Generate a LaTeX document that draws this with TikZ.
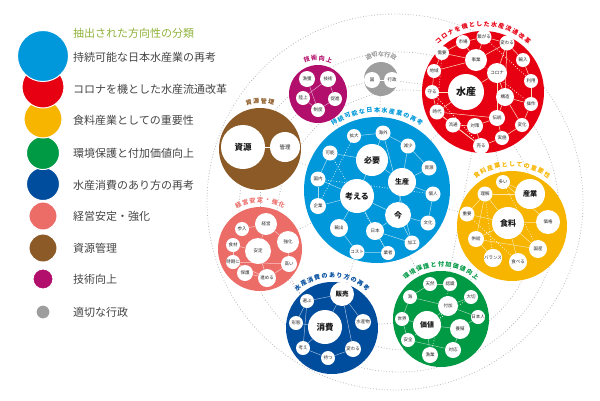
\documentclass[tikz,border=0pt]{standalone}
\usepackage{fontspec}
\setmainfont{Noto Sans CJK JP}
\definecolor{cBlue}{HTML}{0098DB}
\definecolor{cRed}{HTML}{E60012}
\definecolor{cYel}{HTML}{F7B500}
\definecolor{cGrn}{HTML}{009944}
\definecolor{cNavy}{HTML}{004C9D}
\definecolor{cSal}{HTML}{EC6C68}
\definecolor{cBrn}{HTML}{8C5A26}
\definecolor{cPur}{HTML}{B20F6C}
\definecolor{cGry}{HTML}{9E9E9E}
\definecolor{cOlive}{HTML}{8FB23A}
\definecolor{cTxt}{HTML}{444444}
\pgfdeclarelayer{bg}\pgfdeclarelayer{mid}
\pgfsetlayers{bg,mid,main}
\tikzset{
 w/.style={circle, fill=white, inner sep=0pt, minimum size=#1, font=\fontsize{4.5}{5}\selectfont, text=black!85},
 wb/.style={circle, fill=white, inner sep=0pt, minimum size=#1, font=\fontsize{8}{9}\selectfont\bfseries, text=black!90},
 bigc/.style={circle, fill=#1, inner sep=0pt},
 ln/.style={draw=#1, line width=0.5pt},
 dl/.style={draw=white, dotted, line width=0.7pt},
 gdot/.style={draw=black!28, dotted, line width=0.8pt},
 leg/.style={circle, fill=#1, draw=white, line width=1pt, inner sep=0pt},
 legt/.style={anchor=west, font=\fontsize{11}{12}\selectfont, text=cTxt, inner sep=0pt},
}
\newcommand{\arclabel}[7]{%
 \pgfmathsetmacro\abase{90+(#4-1)*#5/2}%
 \foreach \lch [count=\li] in {#7}{%
   \pgfmathsetmacro\ath{\abase-(\li-1)*#5}%
   \node[font=\fontsize{6}{6}\selectfont\bfseries, text=#6, rotate=\ath-90, inner sep=0pt] at ({#1+#3*cos(\ath)},{#2-#3*sin(\ath)}) {\lch};
 }}
\begin{document}
\begin{tikzpicture}[x=1pt,y=-1pt]
\useasboundingbox (0,0) rectangle (600,400);
% legend
\node[leg=cGry, minimum size=14] (L9) at (43,312) {};
\node[leg=cPur, minimum size=20] (L8) at (43,279) {};
\node[leg=cBrn, minimum size=28] (L7) at (43,248) {};
\node[leg=cSal, minimum size=28] (L6) at (43,216) {};
\node[leg=cNavy, minimum size=33] (L5) at (43,184) {};
\node[leg=cGrn, minimum size=33] (L4) at (43,153) {};
\node[leg=cYel, minimum size=38] (L3) at (43,119) {};
\node[leg=cRed, minimum size=42] (L2) at (43,87) {};
\node[leg=cBlue, minimum size=51] (L1) at (43,56) {};
\node[legt, text=cOlive] (T0) at (73,33) {抽出された方向性の分類};
\node[legt] (T1) at (73,57) {持続可能な日本水産業の再考};
\node[legt] (T2) at (73,89) {コロナを機とした水産流通改革};
\node[legt] (T3) at (73,120) {食料産業としての重要性};
\node[legt] (T4) at (73,153) {環境保護と付加価値向上};
\node[legt] (T5) at (73,185) {水産消費のあり方の再考};
\node[legt] (T6) at (73,216) {経営安定・強化};
\node[legt] (T7) at (73,248) {資源管理};
\node[legt] (T8) at (73,279) {技術向上};
\node[legt] (T9) at (73,312) {適切な行政};

% centers
\coordinate (cB) at (377,190);
\coordinate (cR) at (483,92);
\coordinate (cY) at (512,226);
\coordinate (cG) at (441,319);
\coordinate (cN) at (332,328);
\coordinate (cS) at (260,249);
\coordinate (cW) at (260,149);
\coordinate (cP) at (318,94);
\coordinate (cQ) at (381,79);

\begin{pgfonlayer}{bg}
\begin{scope}
\clip (200,0) rectangle (600,400);
\draw[gdot] (cB) ++(18,12) circle (188);
\draw[gdot] (cB) ++(22,22) circle (160);
\draw[gdot] (cB) ++(30,30) circle (130);
\end{scope}
\foreach \a/\b in {cW/cB,cS/cB,cP/cB,cQ/cB,cQ/cR,cR/cB,cR/cY,cY/cB,cY/cG,cG/cB,cG/cN,cN/cB,cN/cS,cS/cW,cP/cW,cP/cQ,cR/cG}
  \draw[gdot] (\a) -- (\b);
\node[bigc=cBlue, minimum size=146] (CB) at (cB) {};
\node[bigc=cRed, minimum size=122] (CR) at (cR) {};
\node[bigc=cYel, minimum size=110] (CY) at (cY) {};
\node[bigc=cGrn, minimum size=96] (CG) at (cG) {};
\node[bigc=cNavy, minimum size=92] (CN) at (cN) {};
\node[bigc=cSal, minimum size=84] (CS) at (cS) {};
\node[bigc=cBrn, minimum size=82] (CW) at (cW) {};
\node[bigc=cPur, minimum size=58] (CP) at (cP) {};
\node[bigc=cGry, minimum size=34] (CQ) at (cQ) {};
\end{pgfonlayer}

% arc labels
\arclabel{483}{92}{68}{14}{6.3}{cRed}{コ,ロ,ナ,を,機,と,し,た,水,産,流,通,改,革}
\arclabel{377}{190}{80}{13}{5.4}{cBlue}{持,続,可,能,な,日,本,水,産,業,の,再,考}
\arclabel{512}{226}{62}{11}{6.9}{cYel}{食,料,産,業,と,し,て,の,重,要,性}
\arclabel{441}{319}{55}{11}{7.8}{cGrn}{環,境,保,護,と,付,加,価,値,向,上}
\arclabel{332}{328}{53}{11}{8.1}{cNavy}{水,産,消,費,の,あ,り,方,の,再,考}
\arclabel{260}{249}{49}{7}{8.8}{cSal}{経,営,安,定,・,強,化}
\arclabel{260}{149}{48}{4}{9}{cBrn}{資,源,管,理}
\arclabel{318}{94}{36}{4}{12}{cPur}{技,術,向,上}
\arclabel{381}{79}{25}{5}{15}{cGry}{適,切,な,行,政}

% red nodes
\node[w=14] (r1) at (463,42) {市場};
\node[w=15] (r2) at (484,37) {繋がる};
\node[w=15] (r3) at (507,43) {変わる};
\node[w=14] (r4) at (442,53) {需要};
\node[w=22] (r5) at (476,60) {事業};
\node[w=14] (r6) at (523,60) {輸入};
\node[w=14] (r7) at (434,71) {地域};
\node[w=20] (r8) at (497,73) {コロナ};
\node[w=14] (r9) at (531,81) {利用};
\node[w=14] (r10) at (432,92) {守る};
\node[wb=36, font=\fontsize{10}{11}\selectfont\bfseries] (r11) at (466,92) {水産};
\node[w=18] (r12) at (505,97) {構造};
\node[w=14] (r13) at (531,104) {操作};
\node[w=15] (r14) at (437,112) {時代};
\node[w=16] (r15) at (497,118) {伝統};
\node[w=15] (r16) at (453,125) {流通};
\node[w=16] (r17) at (475,126) {対策};
\node[w=14] (r18) at (522,125) {変化};
\node[w=14] (r19) at (502,138) {実施};
\node[w=16] (r20) at (481,146) {売る};
% blue nodes
\node[w=14] (b1) at (354,136) {拡大};
\node[w=15] (b2) at (383,133) {海外};
\node[w=15] (b3) at (330,153) {可能};
\node[wb=32] (b4) at (372,160) {必要};
\node[w=15] (b5) at (408,146) {減少};
\node[w=15] (b6) at (318,179) {国内};
\node[w=15] (b7) at (429,168) {資源};
\node[wb=28, font=\fontsize{7}{8}\selectfont\bfseries] (b8) at (402,182) {生産};
\node[wb=34] (b9) at (357,196) {考える};
\node[w=15] (b10) at (433,194) {個人};
\node[w=16] (b11) at (318,206) {企業};
\node[wb=26] (b12) at (398,215) {今};
\node[w=15] (b13) at (428,223) {文化};
\node[w=18] (b14) at (339,228) {輸出};
\node[w=18] (b15) at (375,231) {日本};
\node[w=15] (b16) at (412,243) {加工};
\node[w=15] (b17) at (357,252) {コスト};
\node[w=14] (b18) at (388,253) {業者};
% yellow nodes
\node[w=14] (y1) at (503,182) {多い};
\node[w=15] (y2) at (485,194) {理解};
\node[wb=30, font=\fontsize{7}{8}\selectfont\bfseries] (y3) at (530,194) {産業};
\node[w=15] (y4) at (467,214) {重要};
\node[wb=32] (y5) at (508,223) {食料};
\node[w=24] (y6) at (548,222) {価格};
\node[w=16] (y7) at (476,239) {供給};
\node[w=18] (y8) at (538,249) {国産};
\node[w=18] (y9) at (493,258) {バランス};
\node[w=18] (y10) at (518,262) {食べる};
% navy nodes
\node[wb=24, font=\fontsize{6.5}{7}\selectfont\bfseries] (n1) at (342,294) {販売};
\node[w=14] (n2) at (307,301) {選ぶ};
\node[w=14] (n3) at (296,323) {形態};
\node[wb=34, font=\fontsize{8.5}{9}\selectfont\bfseries] (n4) at (325,327) {消費};
\node[w=16] (n5) at (363,322) {水産物};
\node[w=14] (n6) at (303,348) {考え};
\node[w=16] (n7) at (353,349) {変わる};
\node[w=14] (n8) at (328,358) {持つ};
% green nodes
\node[w=14] (g1) at (430,284) {天然};
\node[w=14] (g2) at (450,284) {認識};
\node[w=14] (g3) at (410,297) {海};
\node[w=14] (g4) at (471,297) {大切};
\node[w=20] (g5) at (448,306) {付加};
\node[w=14] (g6) at (478,317) {日本人};
\node[w=14] (g7) at (402,319) {世界};
\node[wb=28, font=\fontsize{7}{8}\selectfont\bfseries] (g8) at (427,325) {価値};
\node[w=20] (g9) at (460,329) {養殖};
\node[w=14] (g10) at (408,340) {安全};
\node[w=16] (g11) at (453,350) {対応};
\node[w=16] (g12) at (430,355) {漁業};
% salmon nodes
\node[w=22] (s1) at (266,224) {経営};
\node[w=14] (s2) at (242,229) {参入};
\node[w=22] (s3) at (288,242) {強化};
\node[w=14] (s4) at (233,245) {食材};
\node[w=26] (s5) at (258,251) {安定};
\node[w=14] (s6) at (233,262) {時期に};
\node[w=16] (s7) at (289,264) {高い};
\node[w=16] (s8) at (245,273) {保護};
\node[w=18] (s9) at (267,278) {進める};
% brown, purple, gray nodes
\node[wb=44, font=\fontsize{8.5}{9}\selectfont\bfseries] (w1) at (243,147) {資源};
\node[w=30, font=\fontsize{5.5}{6}\selectfont] (w2) at (285,147) {管理};
\node[w=16] (p1) at (307,79) {漁獲};
\node[w=16] (p2) at (328,79) {技術};
\node[w=14] (p3) at (303,98) {陸上};
\node[w=14] (p4) at (335,99) {促進};
\node[w=14] (p5) at (318,110) {制度};
\node[w=16] (q1) at (372,80) {国};
\node[w=16] (q2) at (392,80) {行政};

\begin{pgfonlayer}{mid}
\foreach \a/\b in {r1/r2,r2/r3,r1/r4,r4/r7,r5/r2,r5/r3,r5/r7,r3/r6,r3/r8,r6/r9,r8/r12,r8/r11,r11/r10,r11/r14,r7/r10,r10/r14,r14/r16,r16/r17,r17/r15,r15/r12,r12/r13,r13/r18,r18/r19,r19/r20,r20/r17,r14/r15,r12/r18,r9/r13,r4/r5,r14/r20,r16/r20,r3/r12,r15/r19,r1/r5,r8/r15}
  \draw[ln=orange!25!white] (\a) -- (\b);
\foreach \a/\b in {r4/r14,r2/r9,r10/r20,r5/r13}
  \draw[dl] (\a) -- (\b);
\foreach \a/\b in {b1/b2,b2/b4,b4/b3,b4/b9,b2/b5,b5/b8,b8/b4,b8/b7,b8/b10,b9/b6,b9/b11,b9/b14,b9/b15,b9/b12,b12/b8,b12/b13,b12/b16,b15/b16,b15/b18,b17/b18,b14/b17,b6/b3,b11/b6,b2/b16,b5/b7,b10/b13,b15/b12}
  \draw[ln=cBlue!35!white] (\a) -- (\b);
\foreach \a/\b in {b6/b10,b3/b18,b1/b11}
  \draw[dl] (\a) -- (\b);
\foreach \a/\b in {y1/y3,y2/y3,y2/y5,y1/y6,y4/y2,y5/y6,y5/y7,y7/y9,y7/y8,y5/y10,y5/y8,y4/y5,y2/y7}
  \draw[ln=cYel!35!white] (\a) -- (\b);
\foreach \a/\b in {y4/y10,y2/y9,y1/y8}
  \draw[dl] (\a) -- (\b);
\foreach \a/\b in {g1/g2,g3/g5,g5/g4,g5/g6,g5/g8,g7/g3,g7/g10,g8/g7,g8/g9,g9/g11,g10/g11,g12/g8,g1/g3,g6/g9}
  \draw[ln=cGrn!40!white] (\a) -- (\b);
\foreach \a/\b in {g2/g12,g4/g10}
  \draw[dl] (\a) -- (\b);
\foreach \a/\b in {n2/n1,n2/n3,n2/n6,n3/n4,n4/n1,n1/n5,n1/n7,n6/n8,n8/n7,n4/n6}
  \draw[ln=cNavy!40!white] (\a) -- (\b);
\foreach \a/\b in {s2/s1,s1/s3,s1/s5,s4/s5,s6/s7,s6/s9,s8/s9,s5/s9,s9/s7,s4/s6,s3/s7}
  \draw[ln=cSal!35!white] (\a) -- (\b);
\foreach \a/\b in {p3/p2,p3/p5,p5/p4,p4/p2,p1/p5}
  \draw[ln=cPur!40!white] (\a) -- (\b);
\draw[ln=white] (w1) -- (w2);
\draw[ln=white] (q1) -- (q2);
\end{pgfonlayer}
\end{tikzpicture}
\end{document}
